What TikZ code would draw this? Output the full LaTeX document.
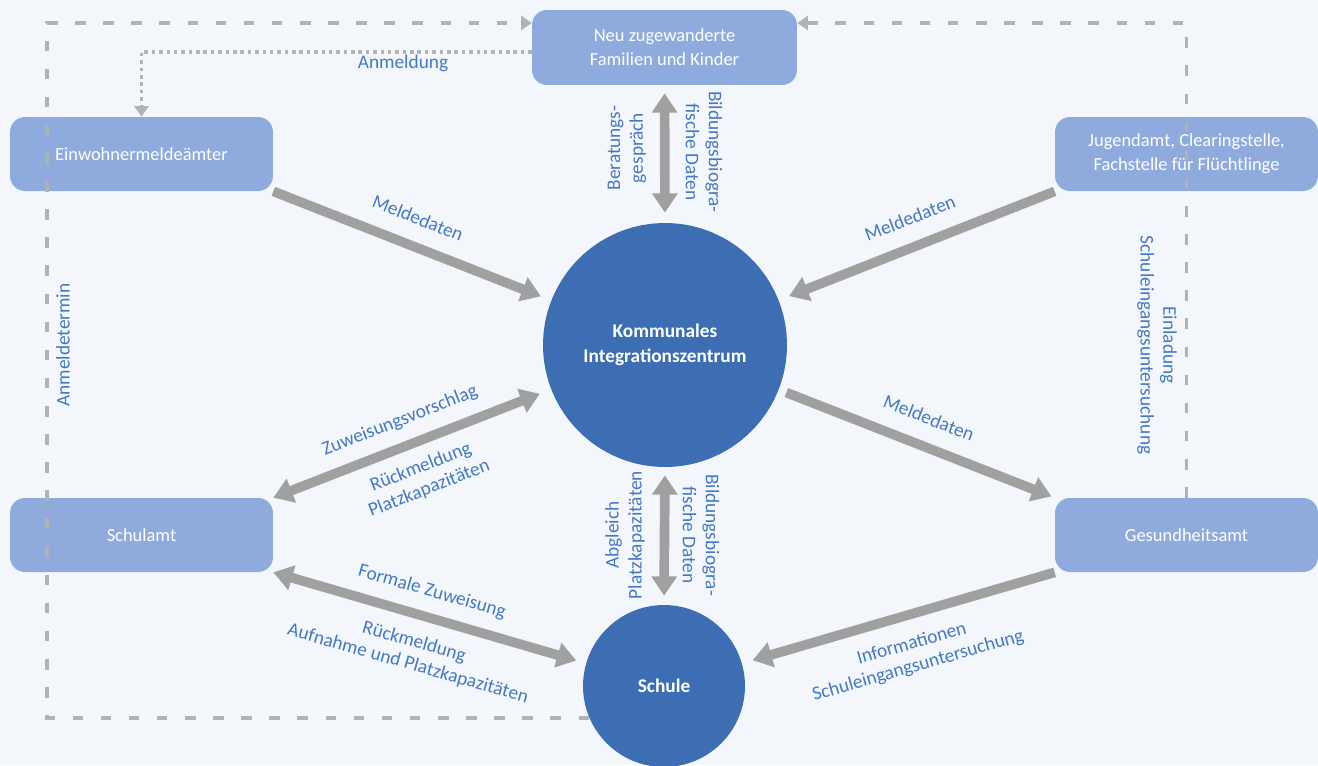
\documentclass[tikz,border=0pt]{standalone}
\usepackage{fontspec}
\setmainfont{Carlito}
\usepackage{tikz}
\usetikzlibrary{arrows.meta}
\definecolor{grund}{HTML}{F3F7FB}
\definecolor{amtblau}{HTML}{8FAADC}
\definecolor{kreisblau}{HTML}{3D6EB4}
\definecolor{schrift}{HTML}{4579C2}
\definecolor{pfeil}{HTML}{A0A0A0}
\definecolor{strich}{HTML}{B2B2B2}

\begin{document}
\begin{tikzpicture}[x=0.02cm, y=-0.02cm,
    amt/.style={rectangle, rounded corners=0.3cm, fill=amtblau, text=white, align=center,
        minimum width=5.26cm, minimum height=1.48cm, font=\fontsize{10.5}{13.5}\selectfont},
    zentrum/.style={circle, fill=kreisblau, text=white, inner sep=0pt, align=center,
        font=\bfseries\fontsize{11}{14}\selectfont},
    fluss/.style={draw=pfeil, line width=5.5pt, -{Triangle[length=11pt,width=14pt]}},
    wechsel/.style={draw=pfeil, line width=5.5pt, {Triangle[length=11pt,width=14pt]}-{Triangle[length=11pt,width=14pt]}},
    info/.style={text=schrift, align=center, font=\fontsize{11}{13}\selectfont},
    termin/.style={draw=strich, line width=2.2pt, dash pattern=on 6pt off 10pt, -{Triangle[length=6pt,width=8pt]}},
    anmelde/.style={draw=strich, line width=2pt, dash pattern=on 2pt off 2.2pt, -{Triangle[length=6pt,width=8pt]}}]
    \clip (0,0) rectangle (1318,765);
    \fill[grund] (0,0) rectangle (1318,765);

    \node[amt, minimum width=5.3cm, minimum height=1.5cm] (neu) at (664.5,47.5) {Neu zugewanderte\\Familien und Kinder};
    \node[amt] (ewo) at (141.5,154) {Einwohnermeldeämter};
    \node[amt] (jug) at (1186.5,154) {Jugendamt, Clearingstelle,\\Fachstelle für Flüchtlinge};
    \node[amt] (sch) at (141.5,535) {Schulamt};
    \node[amt] (ges) at (1186.5,535) {Gesundheitsamt};
    \node[zentrum, minimum size=4.88cm] (kiz) at (665,345) {Kommunales\\Integrationszentrum};
    \node[zentrum, minimum size=3.24cm] (schule) at (664,686) {Schule};

    \draw[termin] (schule.203) -| (47,23) -- (neu.west |- 0,23);
    \draw[termin] (ges.north) |- (neu.east |- 0,23);
    \draw[anmelde] (neu.west |- 0,52) -| (ewo.north);

    \draw[fluss, shorten >=0.22cm] (ewo.south east) -- (kiz);
    \draw[fluss, shorten >=0.22cm] (jug.south west) -- (kiz);
    \draw[fluss, shorten <=0.16cm, shorten >=2pt] (kiz) -- (ges.north west);
    \draw[wechsel, shorten <=0.24cm] (kiz) -- (sch.north east);
    \draw[wechsel, shorten >=0.2cm] (sch.south east) -- (schule);
    \draw[fluss, shorten >=0.22cm] (ges.south west) -- (schule);
    \draw[wechsel, shorten <=0.16cm, shorten >=0.2cm] (neu.south) -- (kiz.north);
    \draw[wechsel, shorten <=0.16cm, shorten >=0.18cm] (kiz.south) -- (schule.north);

    \node[info] (anm) at (403,63) {Anmeldung};
    \node[info, rotate=90] (termin) at (63,345) {Anmeldetermin};
    \node[info, rotate=-90] (einl) at (1157,345) {Einladung\\Schuleingangsuntersuchung};
    \node[info, rotate=90] (berat) at (627,148) {Beratungs-\\gespräch};
    \node[info, rotate=-90] (bio1) at (704,152) {Bildungsbiogra-\\fische Daten};
    \node[info, rotate=90] (abgl) at (625,535) {Abgleich\\Platzkapazitäten};
    \node[info, rotate=-90] (bio2) at (701,535) {Bildungsbiogra-\\fische Daten};
    \node[info, rotate=-21.4] (md1) at (418,218) {Meldedaten};
    \node[info, rotate=21.4] (md2) at (910,218) {Meldedaten};
    \node[info, rotate=-21.4] (md3) at (929,418) {Meldedaten};
    \node[info, rotate=21.4] (zuw) at (400,421) {Zuweisungsvorschlag};
    \node[info, rotate=21.4] (rueck1) at (425,478) {Rückmeldung\\Platzkapazitäten};
    \node[info, rotate=-15.9] (formal) at (432,592) {Formale Zuweisung};
    \node[info, rotate=-15.9] (rueck2) at (411,653) {Rückmeldung\\Aufnahme und Platzkapazitäten};
    \node[info, rotate=15.9] (infos) at (915,655) {Informationen\\Schuleingangsuntersuchung};
\end{tikzpicture}
\end{document}
